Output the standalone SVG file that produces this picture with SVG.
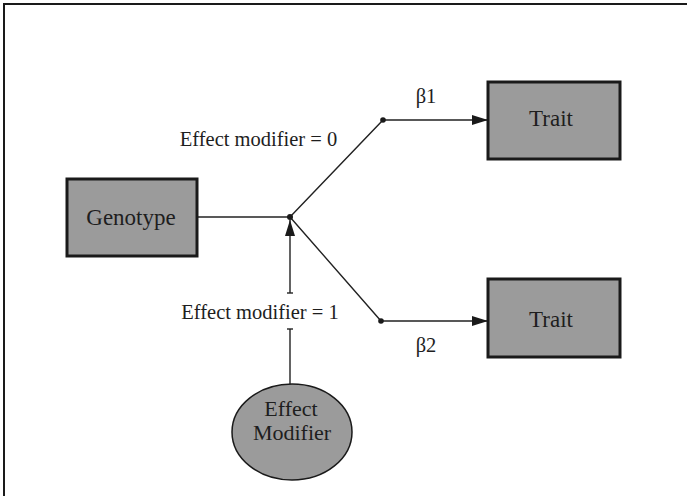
<svg xmlns="http://www.w3.org/2000/svg" width="687" height="496" viewBox="0 0 687 496">
<style>
.box{fill:#9b9b9b;stroke:#1a1a1a;stroke-width:3}
.ell{fill:#9b9b9b;stroke:#1a1a1a;stroke-width:1.5}
.ln{fill:none;stroke:#222;stroke-width:1.4}
text{font-family:"Liberation Serif","Times New Roman",serif;fill:#1e1e1e}
.lab{font-size:23px;text-anchor:middle}
.sm{font-size:20.5px;text-anchor:middle}
</style>
<defs>
<marker id="ah" markerWidth="16" markerHeight="10" refX="16" refY="5" orient="auto" markerUnits="userSpaceOnUse">
<path d="M0,0 L16,5 L0,10 Z" fill="#1a1a1a"/>
</marker>
</defs>
<rect width="687" height="496" fill="#fff"/>
<path d="M3,4 H687 M4,3 V496" fill="none" stroke="#1a1a1a" stroke-width="2"/>
<g id="connectors">
<line class="ln" x1="197" y1="217" x2="290" y2="217"/>
<polyline class="ln" points="290,217 383,120 488,120" marker-end="url(#ah)"/>
<polyline class="ln" points="290,217 381,321 488,321" marker-end="url(#ah)"/>
<line class="ln" x1="290" y1="293" x2="290" y2="220" marker-end="url(#ah)"/>
<line class="ln" x1="287" y1="293" x2="293" y2="293"/>
<line class="ln" x1="290" y1="384" x2="290" y2="329"/>
<line class="ln" x1="287" y1="329" x2="293" y2="329"/>
<circle cx="290" cy="217" r="3" fill="#1a1a1a"/>
<circle cx="383" cy="120" r="2.8" fill="#1a1a1a"/>
<circle cx="381" cy="321" r="2.8" fill="#1a1a1a"/>
<text class="sm" x="426" y="103">β1</text>
<text class="sm" x="426" y="352">β2</text>
<text class="sm" x="258.5" y="146">Effect modifier = 0</text>
<text class="sm" x="260" y="319">Effect modifier = 1</text>
</g>
<g id="genotype">
<rect class="box" x="67" y="179" width="130" height="77"/>
<text class="lab" x="131" y="225">Genotype</text>
</g>
<g id="trait1">
<rect class="box" x="488" y="82" width="132" height="77"/>
<text class="lab" x="551" y="126">Trait</text>
</g>
<g id="trait2">
<rect class="box" x="488" y="279" width="132" height="78"/>
<text class="lab" x="551" y="327">Trait</text>
</g>
<g id="effect-modifier">
<ellipse class="ell" cx="292" cy="432" rx="60" ry="48"/>
<text class="lab" x="291" y="416" style="font-size:22px">Effect</text>
<text class="lab" x="292" y="440" style="font-size:22px">Modifier</text>
</g>
</svg>
